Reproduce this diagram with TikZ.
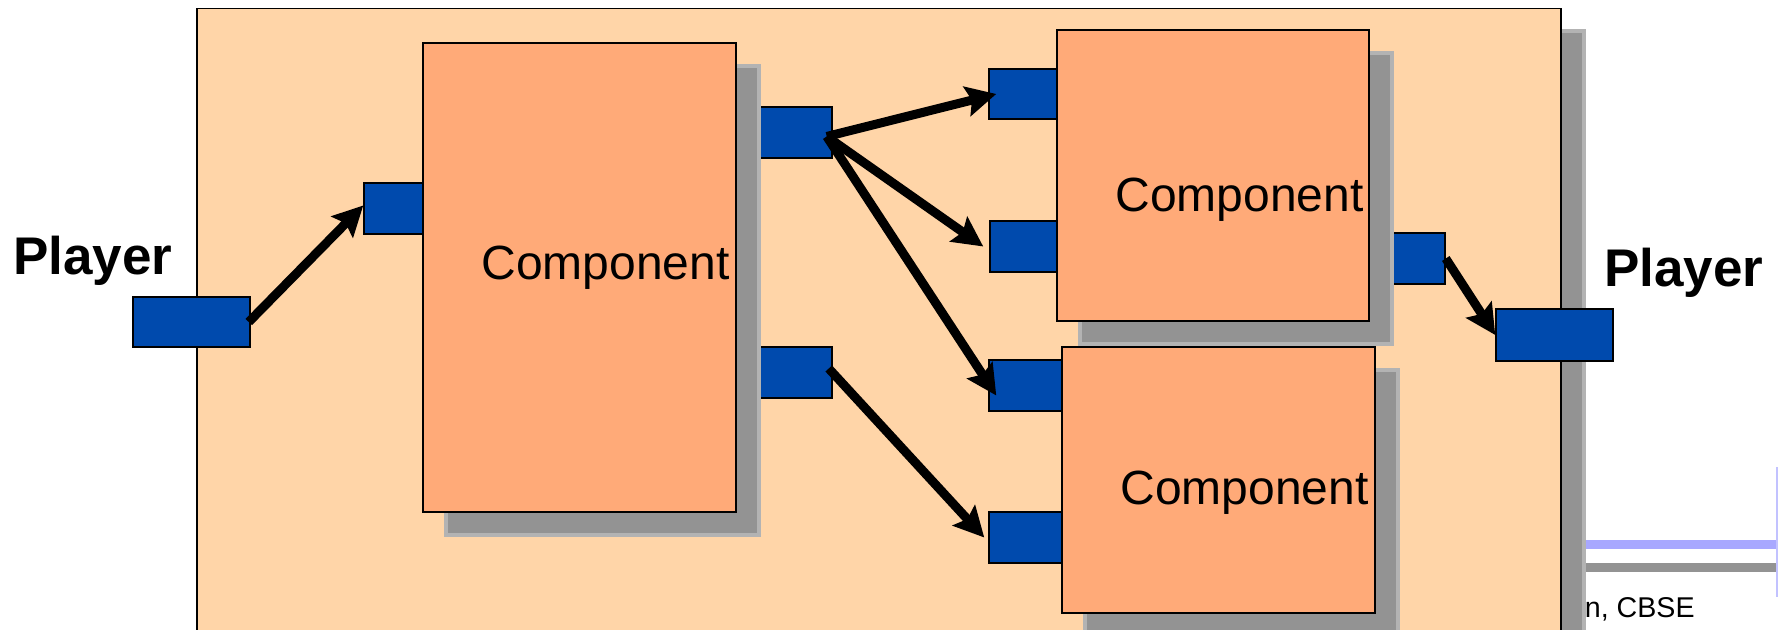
\documentclass[tikz,border=0pt]{standalone}
\usepackage{fontspec}
\setmainfont{Liberation Sans}
\usetikzlibrary{arrows.meta,fit,shadows}

\definecolor{peach}{HTML}{FFD5A8}
\definecolor{compfill}{HTML}{FFAA78}
\definecolor{portblue}{HTML}{004AAD}
\definecolor{shadowgray}{HTML}{939393}
\definecolor{lineblue}{HTML}{A8A8FF}

\tikzset{
  boxshadow/.style={drop shadow={shadow xshift=11.5pt, shadow yshift=-11.5pt, fill=shadowgray, draw=shadowgray!70, line width=2pt, opacity=1}},
  outerbox/.style={draw=black, line width=0.75pt, fill=peach, inner sep=0pt, boxshadow},
  compbox/.style={draw=black, line width=0.75pt, fill=compfill, inner sep=0pt, boxshadow},
  port/.style={draw=black, line width=0.75pt, fill=portblue, inner sep=0pt},
  flow/.style={-{Stealth[length=15pt, width=15pt, inset=2.5pt]}, line width=4.5pt, black},
  comptext/.style={anchor=base east, inner sep=0pt, font=\fontsize{24}{28}\selectfont},
  player/.style={anchor=base west, inner sep=0pt, font=\bfseries\fontsize{26.5}{30}\selectfont},
}

\begin{document}
\begin{tikzpicture}[x=0.5pt, y=-0.5pt]

\clip (0,0) rectangle (1778,630);

% Pie
\draw[lineblue, line width=4.5pt] (1570,544.5) -- (1778,544.5);
\draw[shadowgray, line width=4.5pt] (1570,567.5) -- (1778,567.5);
\draw[lineblue!70, line width=1.5pt] (1777,467) -- (1777,597);
\node[anchor=base east, inner sep=0pt, font=\fontsize{14.3}{17}\selectfont] (pie) at (1695,617) {nn, CBSE};

% Caja exterior
\node[outerbox, fit={(197,8.5) (1561,700)}] (sistema) {};

% Componente 1
\node[port, fit={(736,107) (832,158)}] (c1outa) {};
\node[port, fit={(736,347) (832,398)}] (c1outb) {};
\node[compbox, fit={(423,43) (736,512)}] (c1) {};
\node[port, fit={(364,183) (423,234)}] (c1in) {};
\node[comptext] (c1txt) at (730,280) {Component};

% Componente 2
\node[port, fit={(1369,233) (1445,284)}] (c2out) {};
\node[compbox, fit={(1057,30) (1369,321)}] (c2) {};
\node[port, fit={(989,69) (1057,119)}] (c2ina) {};
\node[port, fit={(990,221) (1057,272)}] (c2inb) {};
\node[comptext] (c2txt) at (1364,212) {Component};

% Componente 3
\node[compbox, fit={(1062,347) (1375,613)}] (c3) {};
\node[port, fit={(989,360) (1062,411)}] (c3ina) {};
\node[port, fit={(989,512) (1062,563)}] (c3inb) {};
\node[comptext] (c3txt) at (1369,504) {Component};

% Players
\node[port, fit={(133,297) (250,347)}] (pl) {};
\node[port, fit={(1496,309) (1613,361)}] (pr) {};
\node[player] (pltxt) at (13,275) {Player};
\node[player] (prtxt) at (1604,287) {Player};

% Flechas
\draw[flow] ([xshift=-1pt]pl.east) -- ([yshift=1.5pt]c1in.west);
\draw[flow] ([xshift=-3pt,yshift=-2pt]c1outa.east) -- ([xshift=4pt]c2ina.west);
\draw[flow] ([xshift=-3pt,yshift=-2pt]c1outa.east) -- ([xshift=-3pt]c2inb.west);
\draw[flow] ([xshift=-3pt,yshift=-2pt]c1outa.east) -- ([xshift=4pt,yshift=-5pt]c3ina.west);
\draw[flow] ([xshift=-2pt,yshift=2pt]c1outb.east) -- ([xshift=-2pt]c3inb.west);
\draw[flow] (c2out.east) -- (pr.west);

\end{tikzpicture}
\end{document}
